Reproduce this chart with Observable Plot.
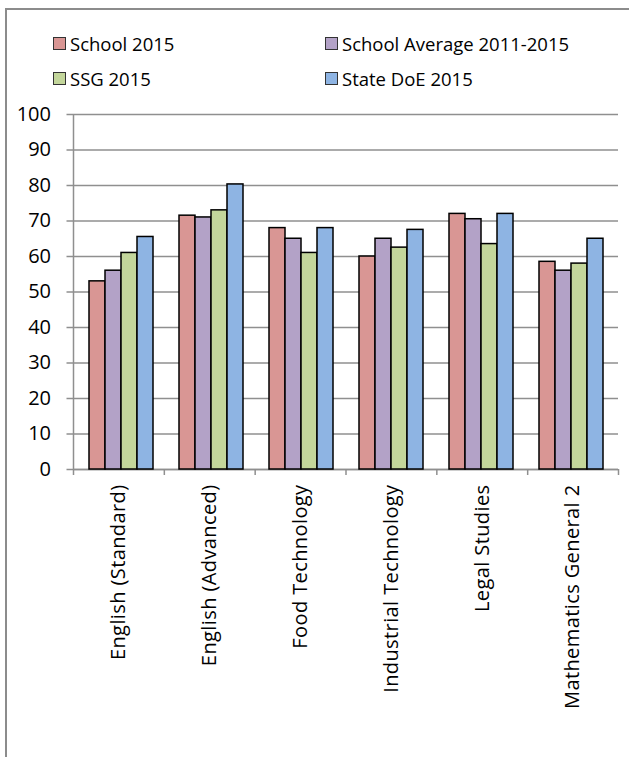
<!DOCTYPE html>
<html>
<head>
<meta charset="utf-8">
<script src="https://cdn.jsdelivr.net/npm/d3@7"></script>
<script src="https://cdn.jsdelivr.net/npm/@observablehq/plot@0.6"></script>
<style>
  body { margin:0; background:#fff; width:629px; height:757px; overflow:hidden; position:relative; font-family:"Open Sans", sans-serif; }
  #frameTop { position:absolute; left:5px; top:8px; width:624px; height:2px; background:#8c8c8c; }
  #frameLeft { position:absolute; left:5px; top:8px; width:2px; height:749px; background:#8c8c8c; }
  #legend { position:absolute; left:53px; top:26px; display:grid; grid-template-columns:272px auto; font-size:18.5px; line-height:35px; color:#000; }
  .item { display:flex; align-items:center; white-space:nowrap; }
  .sw { width:11px; height:11px; border:1px solid #333; margin-right:4px; flex:none; }
  .layer { position:absolute; left:0; top:95px; }
  #axes g[aria-label="x-axis tick label"] text { letter-spacing:0.4px; }
</style>
</head>
<body>
<div id="frameTop"></div>
<div id="frameLeft"></div>
<div id="legend"></div>
<div id="axes" class="layer"></div>
<div id="bars" class="layer"></div>
<script>
const categories = ["English (Standard)", "English (Advanced)", "Food Technology", "Industrial Technology", "Legal Studies", "Mathematics General 2"];
const series = ["School 2015", "School Average 2011-2015", "SSG 2015", "State DoE 2015"];
const colors = ["#D99694", "#B3A2C7", "#C3D69B", "#8EB4E3"];
const school2015 = [53, 71.5, 68, 60, 72, 58.5];
const schoolAverage = [56, 71, 65, 65, 70.5, 56];
const ssg2015 = [61, 73, 61, 62.5, 63.5, 58];
const stateDoE2015 = [65.5, 80.3, 68, 67.5, 72, 65];
const yTicks = [0, 10, 20, 30, 40, 50, 60, 70, 80, 90, 100];

const seriesValues = [school2015, schoolAverage, ssg2015, stateDoE2015];
const data = categories.flatMap((c, i) => series.map((s, j) => ({category: c, series: s, value: seriesValues[j][i]})));

// legend
const legend = document.getElementById("legend");
series.forEach((s, j) => {
  const it = document.createElement("div");
  it.className = "item";
  const sw = document.createElement("span");
  sw.className = "sw";
  sw.style.background = colors[j];
  const tx = document.createElement("span");
  tx.textContent = s;
  it.appendChild(sw); it.appendChild(tx);
  legend.appendChild(it);
});

const gray = "#8f8f8f";
const dims = {width: 629, height: 640, marginLeft: 73, marginRight: 11, marginTop: 19, marginBottom: 266};
const style = {fontFamily: "'Open Sans', sans-serif", fontSize: "20px", color: "#000", background: "transparent"};

// Layer 1: grid, axes and category labels (category index scale: boundaries at integers)
const boundaries = d3.range(categories.length + 1);
const centers = categories.map((c, i) => i + 0.5);
const axesPlot = Plot.plot({
  ...dims,
  style,
  x: {domain: [0, categories.length], axis: null},
  y: {domain: [0, 100], axis: null},
  marks: [
    Plot.gridY(yTicks, {stroke: gray, strokeOpacity: 1, strokeWidth: 1.5}),
    Plot.ruleY([0], {stroke: gray, strokeWidth: 1.5}),
    Plot.ruleX([0], {y1: 0, y2: 100, stroke: gray, strokeWidth: 1.5}),
    Plot.axisY(yTicks, {tickSize: 6.5, tickPadding: 16, stroke: gray, strokeWidth: 1.5, fill: "#000", fontSize: 20, tickFormat: d => String(d), label: null}),
    Plot.axisX(boundaries, {anchor: "bottom", tickSize: 6, tickFormat: () => "", stroke: gray, strokeWidth: 1.5, label: null}),
    Plot.axisX(centers, {anchor: "bottom", tickSize: 0, tickPadding: 15, tickRotate: -90, tickFormat: d => categories[Math.floor(d)], fill: "#000", fontSize: 20, label: null})
  ]
});
document.getElementById("axes").appendChild(axesPlot);

// Layer 2: grouped bars
const barsPlot = Plot.plot({
  ...dims,
  style,
  fx: {domain: categories, paddingInner: 0.27, paddingOuter: 0.135, label: null, axis: null},
  x: {domain: series, padding: 0, axis: null},
  y: {domain: [0, 100], axis: null},
  color: {domain: series, range: colors},
  marks: [
    Plot.barY(data, {fx: "category", x: "series", y: "value", fill: "series", stroke: "#000", strokeWidth: 1.5})
  ]
});
document.getElementById("bars").appendChild(barsPlot);
</script>
</body>
</html>
